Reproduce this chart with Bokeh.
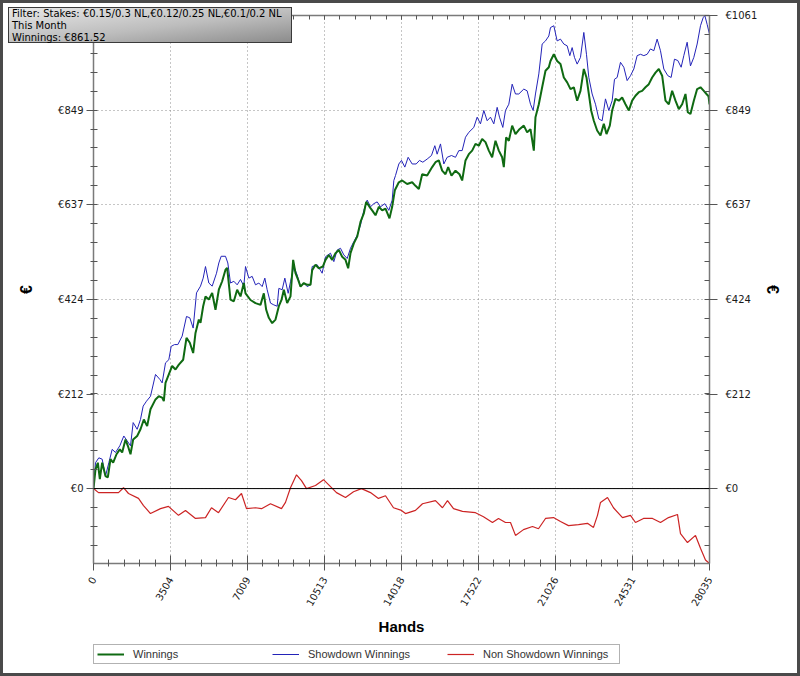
import math
from bokeh.plotting import figure
from bokeh.models import (Range1d, LinearAxis, FixedTicker, Grid, Span, Legend,
                          LegendItem, Div, GridBox)
from bokeh.embed import file_html
from bokeh.resources import INLINE

# ---------------- data ----------------
hands_w = [0, 91, 197, 288, 394, 546, 652, 774, 895, 1047,
           1198, 1305, 1456, 1563, 1684, 1805, 1987, 2139, 2291, 2442,
           2594, 2822, 2973, 3125, 3201, 3277, 3428, 3580, 3732, 3884,
           4081, 4232, 4384, 4536, 4642, 4794, 4870, 4991, 5097, 5249,
           5401, 5552, 5704, 5856, 6007, 6083, 6235, 6387, 6538, 6690,
           6842, 6918, 7146, 7373, 7601, 7752, 7859, 7980, 8132, 8283,
           8435, 8556, 8663, 8814, 8966, 9087, 9194, 9315, 9421, 9573,
           9724, 9876, 9952, 10104, 10255, 10437, 10559, 10711, 10862, 11014,
           11166, 11317, 11469, 11590, 11697, 11848, 12000, 12152, 12303, 12410,
           12561, 12683, 12834, 12986, 13138, 13289, 13471, 13593, 13714, 13896,
           14047, 14275, 14503, 14654, 14806, 14958, 15185, 15413, 15564, 15716,
           15868, 16020, 16141, 16293, 16475, 16657, 16778, 16930, 17081, 17233,
           17385, 17537, 17688, 17840, 17992, 18143, 18295, 18447, 18598, 18674,
           18780, 18902, 19054, 19205, 19387, 19584, 19736, 19888, 20040, 20115,
           20267, 20419, 20571, 20722, 20798, 20950, 21101, 21253, 21405, 21557,
           21708, 21860, 22012, 22163, 22315, 22436, 22543, 22649, 22770, 22922,
           23074, 23225, 23347, 23498, 23605, 23756, 23908, 24060, 24211, 24363,
           24515, 24666, 24818, 24970, 25121, 25273, 25425, 25577, 25728, 25880,
           26032, 26183, 26335, 26487, 26639, 26790, 26942, 27048, 27169, 27321,
           27473, 27625, 27776, 27898, 27990, 28035]
winnings = [0, 43, 58, 21, 58, 28, 25, 66, 58, 77,
            88, 81, 110, 96, 77, 110, 118, 133, 155, 140,
            178, 200, 207, 204, 196, 237, 256, 275, 267, 278,
            289, 338, 327, 304, 349, 379, 372, 409, 431, 424,
            439, 401, 446, 465, 491, 495, 424, 420, 446, 431,
            461, 438, 423, 416, 412, 438, 401, 383, 371, 379,
            409, 423, 446, 416, 431, 513, 483, 468, 453, 461,
            457, 457, 490, 502, 494, 498, 513, 524, 513, 528,
            535, 520, 513, 494, 528, 550, 565, 598, 617, 643,
            632, 624, 613, 632, 624, 628, 606, 632, 669, 687,
            691, 683, 687, 679, 672, 705, 702, 721, 732, 736,
            713, 705, 721, 702, 713, 705, 691, 736, 750, 758,
            773, 769, 784, 777, 758, 743, 780, 758, 743, 721,
            788, 780, 814, 795, 806, 814, 799, 806, 758, 833,
            862, 900, 937, 945, 959, 974, 959, 952, 922, 911,
            896, 900, 870, 892, 941, 922, 885, 848, 825, 803,
            792, 818, 795, 814, 848, 874, 870, 877, 862, 848,
            870, 881, 889, 892, 900, 907, 922, 933, 941, 926,
            870, 862, 892, 870, 851, 862, 885, 844, 840, 870,
            896, 900, 892, 885, 880, 861.52]

hands_s = [0, 91, 243, 394, 546, 698, 850, 1001, 1198, 1380,
           1532, 1684, 1805, 1987, 2139, 2260, 2412, 2594, 2822, 3019,
           3125, 3277, 3428, 3535, 3686, 3838, 4035, 4232, 4384, 4536,
           4688, 4870, 4991, 5097, 5249, 5401, 5598, 5704, 5810, 6007,
           6113, 6235, 6387, 6538, 6690, 6842, 6918, 7070, 7221, 7373,
           7525, 7677, 7798, 7904, 8056, 8207, 8359, 8435, 8587, 8708,
           8860, 8966, 9118, 9269, 9421, 9573, 9724, 9876, 9952, 10180,
           10407, 10559, 10786, 10938, 11090, 11241, 11393, 11545, 11697, 11848,
           12000, 12152, 12303, 12455, 12607, 12758, 12910, 13062, 13259, 13441,
           13593, 13669, 13744, 13896, 14017, 14169, 14320, 14503, 14685, 14836,
           14988, 15185, 15382, 15534, 15640, 15792, 15944, 16095, 16293, 16475,
           16626, 16778, 16930, 17081, 17309, 17461, 17612, 17764, 17916, 18067,
           18219, 18371, 18477, 18629, 18750, 18902, 19054, 19205, 19357, 19584,
           19736, 19888, 20009, 20115, 20267, 20419, 20571, 20722, 20798, 20950,
           21101, 21253, 21405, 21557, 21678, 21784, 21890, 22012, 22163, 22315,
           22436, 22543, 22694, 22846, 22998, 23149, 23301, 23453, 23605, 23711,
           23832, 23984, 24135, 24287, 24439, 24591, 24742, 24894, 25046, 25197,
           25349, 25501, 25652, 25804, 25956, 26138, 26289, 26441, 26593, 26745,
           26866, 27018, 27169, 27321, 27473, 27625, 27746, 27822, 27928, 28035]
showdown = [0, 58, 69, 66, 28, 58, 88, 81, 96, 118,
            107, 96, 148, 133, 155, 185, 196, 207, 256, 245,
            237, 282, 289, 319, 323, 323, 342, 386, 383, 360,
            439, 454, 472, 498, 461, 454, 483, 506, 521, 521,
            506, 461, 465, 457, 469, 454, 498, 472, 476, 457,
            461, 453, 472, 446, 416, 412, 409, 449, 446, 472,
            438, 464, 498, 479, 453, 461, 453, 457, 498, 502,
            483, 520, 528, 509, 535, 539, 524, 516, 539, 554,
            568, 591, 624, 647, 632, 639, 643, 632, 639, 624,
            647, 691, 702, 728, 736, 721, 743, 728, 728, 736,
            732, 739, 747, 769, 750, 773, 728, 743, 747, 743,
            758, 758, 788, 799, 810, 833, 818, 848, 825, 833,
            818, 855, 833, 810, 848, 862, 907, 885, 885, 896,
            892, 862, 848, 885, 930, 997, 1004, 1015, 1034, 1038,
            1004, 1008, 997, 993, 971, 989, 967, 952, 967, 1023,
            974, 922, 885, 862, 829, 825, 874, 848, 870, 918,
            922, 956, 945, 915, 926, 941, 971, 974, 971, 974,
            986, 982, 1008, 982, 941, 926, 922, 963, 960, 945,
            971, 1001, 948, 967, 997, 1038, 1056, 1061, 1041, 1019]

hands_r = [0, 228, 683, 1138, 1365, 1593, 2048, 2276, 2594, 3049,
           3413, 3868, 4187, 4642, 5097, 5370, 5689, 6144, 6462, 6735,
           6963, 7373, 7646, 8055, 8556, 8738, 8965, 9239, 9466, 9694,
           10103, 10467, 10695, 11059, 11469, 11833, 12197, 12606, 12970, 13289,
           13653, 14017, 14199, 14654, 14973, 15564, 15883, 16111, 16384, 16793,
           17385, 17749, 18158, 18432, 18750, 18978, 19205, 19569, 19979, 20252,
           20571, 20935, 21253, 21617, 22072, 22482, 22755, 22937, 23074, 23393,
           23665, 24075, 24439, 24667, 25031, 25441, 25805, 26169, 26578, 26715,
           27033, 27397, 27625, 27852, 28035]
non_showdown = [0, -9, -9, -9, 2, -11, -22, -38, -56, -45,
                -40, -60, -49, -67, -65, -43, -54, -20, -25, -11,
                -45, -43, -45, -34, -45, -31, 2, 31, 18, 0,
                7, 20, 9, -9, -20, -7, 0, -9, -22, -16,
                -43, -49, -56, -49, -34, -27, -43, -27, -45, -51,
                -54, -63, -76, -67, -76, -76, -105, -92, -85, -90,
                -67, -65, -74, -83, -81, -78, -87, -60, -31, -20,
                -43, -65, -60, -76, -67, -67, -76, -65, -58, -101,
                -121, -105, -134, -160, -168]

series_names = ["Winnings", "Showdown Winnings", "Non Showdown Winnings"]
series_colors = ["#0f6a12", "#2323b8", "#cc2424"]
series_widths = [2, 1, 1.2]

x_ticks = [0, 3504, 7009, 10513, 14018, 17522, 21026, 24531, 28035]
x_tick_labels = ["0", "3504", "7009", "10513", "14018", "17522", "21026", "24531", "28035"]
y_ticks = [0, 212, 424, 637, 849, 1061]
y_tick_labels = ["€0", "€212", "€424", "€637", "€849", "€1061"]

info_lines = ["Filter: Stakes: €0.15/0.3 NL,€0.12/0.25 NL,€0.1/0.2 NL",
              "This Month",
              "Winnings: €861.52"]

X_MAX = 28035
Y_MIN, Y_MAX = -168, 1061

# ---------------- main figure ----------------
p = figure(frame_width=616, frame_height=548, output_backend="svg",
           toolbar_location=None,
           x_range=Range1d(0, X_MAX), y_range=Range1d(Y_MIN, Y_MAX),
           x_axis_location=None, y_axis_location=None,
           min_border_left=93, min_border_right=91, min_border_top=15,
           min_border_bottom=81, margin=0)
p.center = []          # drop default grids; our own are added below
p.outline_line_color = None
p.background_fill_color = "white"
p.border_fill_color = "white"

x_minor = [i * X_MAX / 40 for i in range(41)]
y_minor = [i * Y_MAX / 25 for i in range(-3, 26)]
xt = FixedTicker(ticks=x_ticks, minor_ticks=x_minor)
yt = FixedTicker(ticks=y_ticks, minor_ticks=y_minor)


def make_axis(ticker, labels, **kw):
    ax = LinearAxis(ticker=ticker, major_label_overrides=labels, **kw)
    ax.axis_line_color = "#7a7a7a"
    ax.axis_line_width = 1.5
    ax.major_tick_line_color = "#555555"
    ax.minor_tick_line_color = "#555555"
    ax.major_label_text_font = "DejaVu Sans"
    ax.major_label_text_font_size = "10px"
    ax.major_label_text_color = "#1a1a1a"
    ax.axis_label_text_font = "Liberation Sans"
    ax.axis_label_text_font_style = "bold"
    ax.axis_label_text_color = "black"
    return ax


xlab = dict(zip(x_ticks, x_tick_labels))
ylab = dict(zip(y_ticks, y_tick_labels))

xax = make_axis(xt, xlab, axis_label="Hands")
xax.major_label_orientation = math.pi / 3
xax.major_tick_in, xax.major_tick_out = 8, 7
xax.minor_tick_in, xax.minor_tick_out = 4, 3
xax.major_label_standoff = 7
xax.axis_label_standoff = 6
xax.axis_label_text_font_size = "15px"
p.add_layout(xax, "below")

tax = make_axis(xt, {t: "" for t in x_ticks})
tax.major_tick_in, tax.major_tick_out = 4, 0
tax.minor_tick_in, tax.minor_tick_out = 4, 0
tax.major_label_text_font_size = "0px"
tax.major_label_standoff = 0
p.add_layout(tax, "above")

lax = make_axis(yt, ylab, axis_label="€")
lax.major_tick_in, lax.major_tick_out = 0, 7
lax.minor_tick_in, lax.minor_tick_out = 4, 3
lax.major_label_standoff = 3
lax.axis_label_standoff = 14
lax.axis_label_text_font_size = "16px"
p.add_layout(lax, "left")

rax = make_axis(yt, ylab, axis_label="€")
rax.major_tick_in, rax.major_tick_out = 3, 8
rax.minor_tick_in, rax.minor_tick_out = 5, 0
rax.major_label_standoff = 8
rax.axis_label_standoff = 4
rax.axis_label_text_font_size = "16px"
p.add_layout(rax, "right")

for dim, tk in ((0, xt), (1, yt)):
    g = Grid(dimension=dim, ticker=tk, grid_line_color="#8c8c8c",
             grid_line_dash="1 3", grid_line_width=1)
    p.add_layout(g)

p.add_layout(Span(location=0, dimension="width", line_color="black", line_width=1))

p.line(hands_s, showdown, line_color=series_colors[1], line_width=series_widths[1])
p.line(hands_w, winnings, line_color=series_colors[0], line_width=series_widths[0])
p.line(hands_r, non_showdown, line_color=series_colors[2], line_width=series_widths[2])

# ---------------- legend strip (a small figure below the chart) ----------------
lg = figure(frame_width=616, frame_height=32, output_backend="svg",
            toolbar_location=None, x_range=Range1d(0, 1), y_range=Range1d(0, 1),
            x_axis_location=None, y_axis_location=None,
            min_border_left=93, min_border_right=91, min_border_top=0,
            min_border_bottom=0, margin=0)
lg.center = []
lg.outline_line_color = None
lg.background_fill_color = "white"
lg.border_fill_color = "white"
items = []
for name, col, w in zip(series_names, series_colors, series_widths):
    # legend-only line, kept outside the strip's visible range
    r = lg.line(x=[-2, -1], y=[-2, -2], line_color=col, line_width=w)
    items.append(LegendItem(label=name, renderers=[r]))
legend = Legend(items=items, location="top_left", orientation="horizontal",
                label_text_font="Liberation Sans", label_text_font_size="11px",
                label_text_color="#333333", glyph_width=27, glyph_height=12,
                label_height=12, label_standoff=9, label_width=133, spacing=6,
                padding=3, margin=0, border_line_color="#666666",
                border_line_width=1, background_fill_color="white",
                background_fill_alpha=1)
lg.add_layout(legend, "center")

# info box and picture frame, laid over both figures
info_html = "<br>".join(info_lines)
overlay = Div(width=800, height=676, margin=0, text=(
    '<div style="position:relative;width:800px;height:676px;">'
    '<div style="position:absolute;left:8px;top:7px;width:284px;height:36px;'
    'padding:0 0 0 3px;border:1px solid #3a3a3a;'
    'background:linear-gradient(to bottom right,#e8e8e8 0%,#bdbdbd 55%,#8c8c8c 100%);'
    "font-family:'DejaVu Sans';font-size:10px;line-height:12px;color:#000;"
    'white-space:nowrap;">' + info_html + '</div>'
    '<div style="position:absolute;left:0;top:0;width:800px;height:676px;'
    'box-sizing:border-box;border:3px solid #4a4a4a;"></div>'
    '</div>'))

root = GridBox(children=[(p, 0, 0), (lg, 1, 0), (overlay, 0, 0, 2, 1)],
               width=800, height=676)

open("out.html", "w").write(file_html(root, INLINE))
